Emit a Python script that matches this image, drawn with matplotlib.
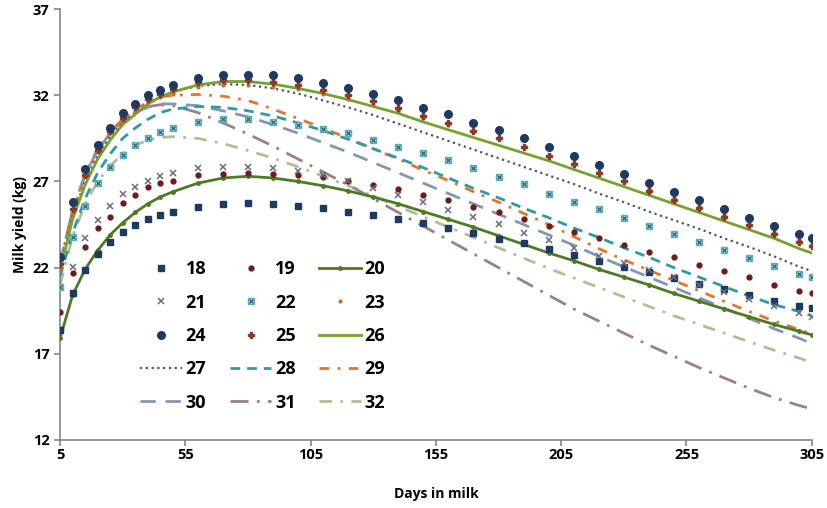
import matplotlib
matplotlib.use("Agg")
import matplotlib.pyplot as plt
from matplotlib.legend_handler import HandlerTuple

days = [5, 10, 15, 20, 25, 30, 35, 40, 45, 50, 60, 70, 80, 90, 100, 110, 120, 130, 140, 150,
        160, 170, 180, 190, 200, 210, 220, 230, 240, 250, 260, 270, 280, 290, 300, 305]

s18 = [18.4, 20.5, 21.85, 22.8, 23.5, 24.05, 24.45, 24.85, 25.05, 25.2, 25.5, 25.7, 25.75, 25.7, 25.6, 25.45,
       25.2, 25.05, 24.8, 24.6, 24.3, 24.0, 23.65, 23.4, 23.1, 22.75, 22.4, 22.05, 21.75, 21.4, 21.05, 20.75,
       20.4, 20.05, 19.75, 19.65]
s19 = [19.4, 21.7, 23.2, 24.3, 24.95, 25.75, 26.2, 26.7, 26.9, 27.05, 27.35, 27.45, 27.5, 27.45, 27.4, 27.25,
       27.0, 26.8, 26.55, 26.2, 25.95, 25.5, 25.2, 24.8, 24.4, 24.05, 23.7, 23.3, 22.9, 22.6, 22.15, 21.8,
       21.45, 21.0, 20.65, 20.5]
s20 = [17.9, 20.4, 21.9, 23.0, 23.9, 24.6, 25.2, 25.7, 26.1, 26.4, 26.9, 27.2, 27.3, 27.2, 27.0, 26.75,
       26.45, 26.1, 25.7, 25.25, 24.8, 24.35, 23.85, 23.35, 22.85, 22.4, 21.9, 21.45, 21.0, 20.5, 20.05, 19.6,
       19.15, 18.7, 18.3, 18.1]
s21 = [20.9, 22.05, 23.7, 24.75, 25.55, 26.25, 26.7, 27.0, 27.3, 27.5, 27.8, 27.85, 27.85, 27.8, 27.6, 27.35,
       27.0, 26.6, 26.2, 25.8, 25.35, 24.95, 24.55, 24.0, 23.6, 23.15, 22.7, 22.25, 21.85, 21.45, 21.0, 20.6,
       20.15, 19.75, 19.35, 19.15]
s22 = [20.9, 23.75, 25.6, 26.9, 27.85, 28.55, 29.1, 29.5, 29.85, 30.1, 30.45, 30.6, 30.6, 30.45, 30.3, 30.05,
       29.8, 29.4, 29.0, 28.65, 28.25, 27.8, 27.25, 26.85, 26.3, 25.8, 25.4, 24.9, 24.4, 23.95, 23.5, 23.0,
       22.55, 22.1, 21.65, 21.45]
s23 = [22.0, 25.2, 27.3, 28.7, 29.8, 30.5, 31.1, 31.6, 31.9, 32.1, 32.5, 32.6, 32.6, 32.5, 32.35, 32.1,
       31.8, 31.45, 31.1, 30.7, 30.3, 29.85, 29.45, 29.0, 28.55, 28.05, 27.55, 27.05, 26.55, 26.05, 25.55, 25.05,
       24.55, 24.05, 23.6, 23.35]
s24 = [22.6, 25.8, 27.75, 29.1, 30.1, 30.95, 31.5, 32.0, 32.3, 32.6, 33.0, 33.2, 33.2, 33.15, 33.0, 32.7,
       32.4, 32.1, 31.7, 31.25, 30.9, 30.4, 30.0, 29.5, 29.0, 28.5, 27.95, 27.45, 26.9, 26.4, 25.9, 25.4,
       24.9, 24.4, 23.95, 23.7]
s25 = [22.2, 25.4, 27.4, 28.8, 29.9, 30.7, 31.3, 31.8, 32.1, 32.35, 32.75, 32.9, 32.9, 32.8, 32.6, 32.3,
       32.0, 31.65, 31.25, 30.8, 30.4, 29.95, 29.5, 29.0, 28.5, 28.0, 27.5, 27.0, 26.45, 25.95, 25.45, 24.95,
       24.45, 23.95, 23.5, 23.25]
s26 = [21.8, 24.8, 26.8, 28.3, 29.4, 30.3, 30.9, 31.5, 31.9, 32.2, 32.6, 32.8, 32.8, 32.65, 32.4, 32.1,
       31.75, 31.35, 30.95, 30.45, 30.0, 29.55, 29.1, 28.65, 28.2, 27.7, 27.2, 26.7, 26.2, 25.7, 25.2, 24.7,
       24.2, 23.7, 23.1, 22.85]
s27 = [22.0, 25.0, 27.0, 28.5, 29.6, 30.4, 31.0, 31.5, 31.9, 32.2, 32.55, 32.65, 32.6, 32.4, 32.1, 31.7,
       31.3, 30.85, 30.35, 29.85, 29.35, 28.85, 28.35, 27.85, 27.35, 26.85, 26.3, 25.8, 25.25, 24.75, 24.25, 23.7,
       23.2, 22.65, 22.05, 21.8]
s28 = [21.5, 24.0, 26.0, 27.5, 28.6, 29.5, 30.1, 30.6, 31.0, 31.2, 31.35, 31.3, 31.1, 30.8, 30.4, 29.95,
       29.45, 28.9, 28.35, 27.8, 27.2, 26.6, 26.05, 25.45, 24.9, 24.3, 23.75, 23.15, 22.6, 22.0, 21.45, 20.9,
       20.35, 19.85, 19.45, 19.2]
s29 = [22.3, 25.2, 27.3, 28.7, 29.8, 30.6, 31.2, 31.6, 31.9, 32.0, 32.05, 31.95, 31.7, 31.2, 30.65, 30.1,
       29.5, 28.9, 28.3, 27.65, 27.05, 26.4, 25.8, 25.15, 24.5, 23.8, 23.1, 22.45, 21.85, 21.25, 20.65, 20.05,
       19.45, 18.9, 18.4, 18.15]
s30 = [22.3, 25.3, 27.4, 28.8, 29.8, 30.5, 31.0, 31.3, 31.5, 31.5, 31.4, 31.1, 30.75, 30.3, 29.8, 29.25,
       28.7, 28.1, 27.5, 26.9, 26.3, 25.7, 25.1, 24.5, 23.9, 23.3, 22.65, 22.05, 21.45, 20.85, 20.25, 19.65,
       19.05, 18.45, 17.9, 17.6]
s31 = [22.2, 25.3, 27.4, 28.9, 29.9, 30.6, 31.1, 31.35, 31.45, 31.4, 31.0, 30.4, 29.75, 29.05, 28.3, 27.55,
       26.8, 26.0, 25.2, 24.4, 23.6, 22.8, 22.0, 21.2, 20.4, 19.6, 18.9, 18.2, 17.5, 16.85, 16.2, 15.6,
       15.0, 14.45, 14.0, 13.8]
s32 = [21.0, 23.8, 25.7, 27.0, 27.9, 28.6, 29.1, 29.4, 29.55, 29.6, 29.5, 29.2, 28.8, 28.35, 27.85, 27.3,
       26.75, 26.15, 25.55, 24.95, 24.35, 23.75, 23.15, 22.55, 21.95, 21.4, 20.85, 20.3, 19.75, 19.2, 18.7, 18.2,
       17.7, 17.2, 16.75, 16.5]

y_ticks = [12, 17, 22, 27, 32, 37]
x_ticks = [5, 55, 105, 155, 205, 255, 305]

plt.rcParams['font.family'] = ['Open Sans', 'DejaVu Sans']

fig = plt.figure(figsize=(8.27, 5.08), dpi=100)
ax = fig.add_axes([0.0726, 0.134, 0.909, 0.848])

h = {}
# fitted lines
h[32], = ax.plot(days, s32, color='#B4BC94', lw=2, dashes=(4.5, 3, 1, 3), zorder=2)
h[31], = ax.plot(days, s31, color='#9C8088', lw=2, dashes=(6.5, 3, 1, 3), zorder=2)
h[30], = ax.plot(days, s30, color='#8597B0', lw=2, dashes=(5.5, 3.5), zorder=2)
h[29], = ax.plot(days, s29, color='#E4762A', lw=2, dashes=(3.5, 3, 1, 3), zorder=2)
h[28], = ax.plot(days, s28, color='#2E9AA8', lw=2, dashes=(3.5, 2.5), zorder=2)
h[27], = ax.plot(days, s27, color='#4C5870', lw=1.6, dashes=(1, 1.6), zorder=2)
h[26], = ax.plot(days, s26, color='#78A22F', lw=2, zorder=3)
h[20], = ax.plot(days, s20, color='#4E7A24', lw=2, marker='o', ms=2.5, zorder=3)

# observed markers
h[18], = ax.plot(days, s18, ls='none', marker='s', ms=5, color='#1F3A60', zorder=4)
h[19], = ax.plot(days, s19, ls='none', marker='o', ms=3.5, color='#6E1A1A', zorder=4)
h[21], = ax.plot(days, s21, ls='none', marker='x', ms=5, mew=1.1, color='#6B6B7A', zorder=4)
h22a, = ax.plot(days, s22, ls='none', marker='s', ms=5, mfc='#9ED6DE', mec='#5AAEBB', zorder=4)
h22b, = ax.plot(days, s22, ls='none', marker='x', ms=3.5, mew=0.9, color='#3E5F6A', zorder=4)
h[22] = (h22a, h22b)
h[23], = ax.plot(days, s23, ls='none', marker='o', ms=2, color='#C07030', zorder=4)
h[24], = ax.plot(days, s24, ls='none', marker='o', ms=5.5, color='#1F3A60', zorder=5)
h[25], = ax.plot(days, s25, ls='none', marker='P', ms=4, color='#8A3A2A', zorder=4)

ax.set_xlim(5, 305)
ax.set_ylim(12, 37)
ax.set_xticks(x_ticks)
ax.set_yticks(y_ticks)
for lab in ax.get_xticklabels() + ax.get_yticklabels():
    lab.set_fontweight('bold')
    lab.set_fontsize(10.5)

for s in ['top', 'right']:
    ax.spines[s].set_visible(False)
for s in ['left', 'bottom']:
    ax.spines[s].set_color('#868686')
    ax.spines[s].set_linewidth(1.2)
ax.tick_params(axis='both', colors='#868686', length=4, width=1.2, labelcolor='black')
ax.tick_params(axis='x', pad=2)

ax.set_ylabel('Milk yield (kg)', fontweight='bold', fontsize=10)
ax.set_xlabel('Days in milk', fontweight='bold', fontsize=10, labelpad=18)

order = [18, 21, 24, 27, 30, 19, 22, 25, 28, 31, 20, 23, 26, 29, 32]
leg = ax.legend([h[k] for k in order], [str(k) for k in order], ncol=3,
                loc='upper left', bbox_to_anchor=(0.095, 0.438), frameon=False,
                handlelength=2.3, handletextpad=0.2, columnspacing=1.3,
                labelspacing=0.85, borderpad=0, prop={'weight': 'bold', 'size': 13},
                handler_map={tuple: HandlerTuple(ndivide=1)})

fig.savefig('out.png', dpi=100)
